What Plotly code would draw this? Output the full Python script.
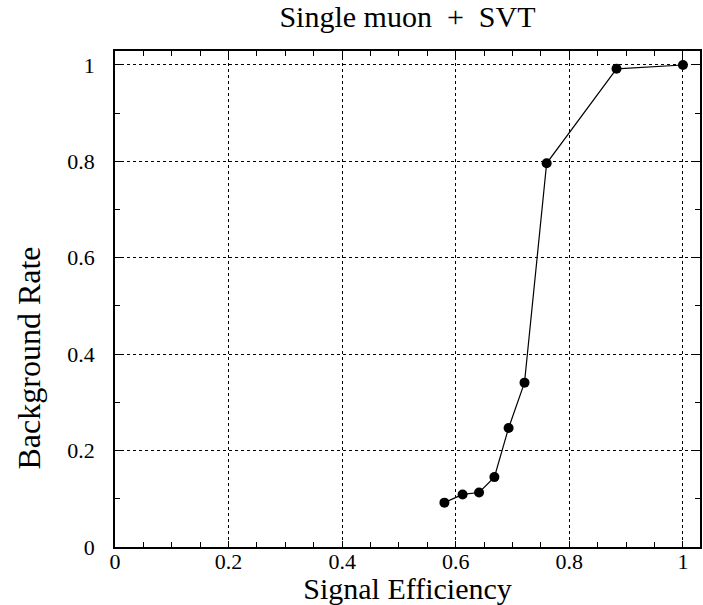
import plotly.graph_objects as go

# Working points of the single-muon + SVT trigger selection
signal_efficiency = [0.580, 0.612, 0.641, 0.668, 0.693, 0.721, 0.760, 0.883, 1.000]
background_rate = [0.092, 0.109, 0.113, 0.145, 0.247, 0.341, 0.796, 0.992, 1.000]

x_ticks = [0, 0.2, 0.4, 0.6, 0.8, 1]
x_tick_text = ["0", "0.2", "0.4", "0.6", "0.8", "1"]
y_ticks = [0, 0.2, 0.4, 0.6, 0.8, 1]
y_tick_text = ["0", "0.2", "0.4", "0.6", "0.8", "1"]

serif = "Liberation Serif"

fig = go.Figure()
fig.add_trace(go.Scatter(
    x=signal_efficiency,
    y=background_rate,
    mode="lines+markers",
    line=dict(color="black", width=1.2),
    marker=dict(color="black", size=10, symbol="circle"),
    showlegend=False,
))

axis_common = dict(
    showline=True, linecolor="black", linewidth=1.6, mirror="allticks",
    showgrid=True, gridcolor="black", gridwidth=1, griddash="dot",
    zeroline=False,
    ticks="inside", ticklen=6, tickwidth=1, tickcolor="black",
    tickfont=dict(family=serif, size=22, color="black"),
)

fig.update_layout(
    width=703, height=605,
    margin=dict(l=115, r=1, t=51, b=58),
    paper_bgcolor="white", plot_bgcolor="white",
    title=dict(text="Single muon  +  SVT", xref="paper", x=0.5, xanchor="center",
               yref="container", y=0.99, yanchor="top",
               font=dict(family=serif, size=30, color="black")),
    xaxis=dict(
        range=[0, 1.03], tickmode="array", tickvals=x_ticks, ticktext=x_tick_text,
        minor=dict(ticks="inside", ticklen=5, tickcolor="black", dtick=0.05, showgrid=False),
        title=dict(text="Signal Efficiency", standoff=0,
                   font=dict(family=serif, size=30, color="black")),
        ticklabelstandoff=-6,
        **axis_common,
    ),
    yaxis=dict(
        range=[0, 1.029], tickmode="array", tickvals=y_ticks, ticktext=y_tick_text,
        minor=dict(ticks="inside", ticklen=5, tickcolor="black", dtick=0.1, showgrid=False),
        ticklabelstandoff=14,
        **axis_common,
    ),
    annotations=[dict(
        text="Background Rate", textangle=-90, showarrow=False,
        xref="paper", yref="paper", x=-0.147, y=0.38,
        xanchor="center", yanchor="middle",
        font=dict(family=serif, size=32, color="black"),
    )],
)

fig.write_html("out.html")
